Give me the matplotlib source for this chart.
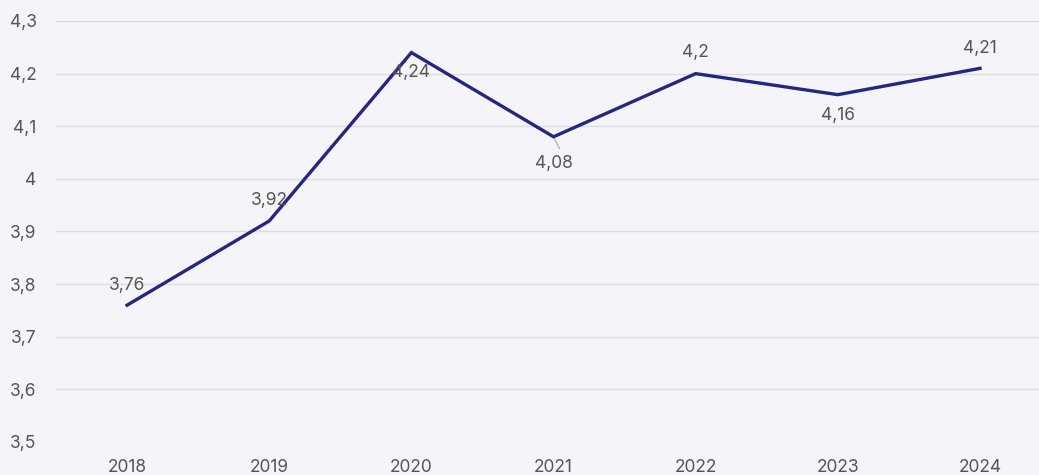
import matplotlib.pyplot as plt
from matplotlib.ticker import FuncFormatter

years = ["2018", "2019", "2020", "2021", "2022", "2023", "2024"]
values = [3.76, 3.92, 4.24, 4.08, 4.20, 4.16, 4.21]
# label offset in pixels: positive above the point, negative below
label_off = [20, 20, -20, -27, 21, -21, 20]

plt.rcParams['font.family'] = ['Inter', 'DejaVu Sans']

bg = "#f4f4f9"
fig = plt.figure(figsize=(10.39, 4.75), dpi=100, facecolor=bg)
ax = fig.add_axes([0.0539, 0.0695, 0.9461, 0.8863], facecolor=bg)

x = list(range(len(years)))
ax.plot(x, values, color="#25267f", linewidth=2.4, solid_joinstyle="miter", zorder=3)

def fmt(v):
    s = f"{v:.2f}".rstrip("0").rstrip(".")
    return s.replace(".", ",")

for xi, v, off in zip(x, values, label_off):
    ax.annotate(fmt(v), (xi, v), xytext=(0, off), textcoords="offset pixels",
                ha="center", va="center", fontsize=12.5, color="#555555", zorder=4)
# small leader line for 2021
ax.annotate("", (3, 4.08), xytext=(6, -12), textcoords="offset pixels",
            arrowprops=dict(arrowstyle="-", color="#aaaaaa", linewidth=0.8, shrinkA=0, shrinkB=0),
            zorder=2)

ax.set_xlim(-0.5, 6.415)
ax.set_ylim(3.5, 4.3)
ax.set_yticks([3.5, 3.6, 3.7, 3.8, 3.9, 4.0, 4.1, 4.2, 4.3])
ax.yaxis.set_major_formatter(FuncFormatter(lambda v, p: fmt(v)))
ax.set_xticks(x)
ax.set_xticklabels(years)
ax.tick_params(axis="both", length=0, labelsize=12.5, labelcolor="#555555")
ax.tick_params(axis="y", pad=14)
ax.tick_params(axis="x", pad=12)
ax.grid(axis="y", color="#dcdce2", linewidth=1)
ax.set_axisbelow(True)
for s in ax.spines.values():
    s.set_visible(False)

fig.savefig("out.png", dpi=100, facecolor=bg)
